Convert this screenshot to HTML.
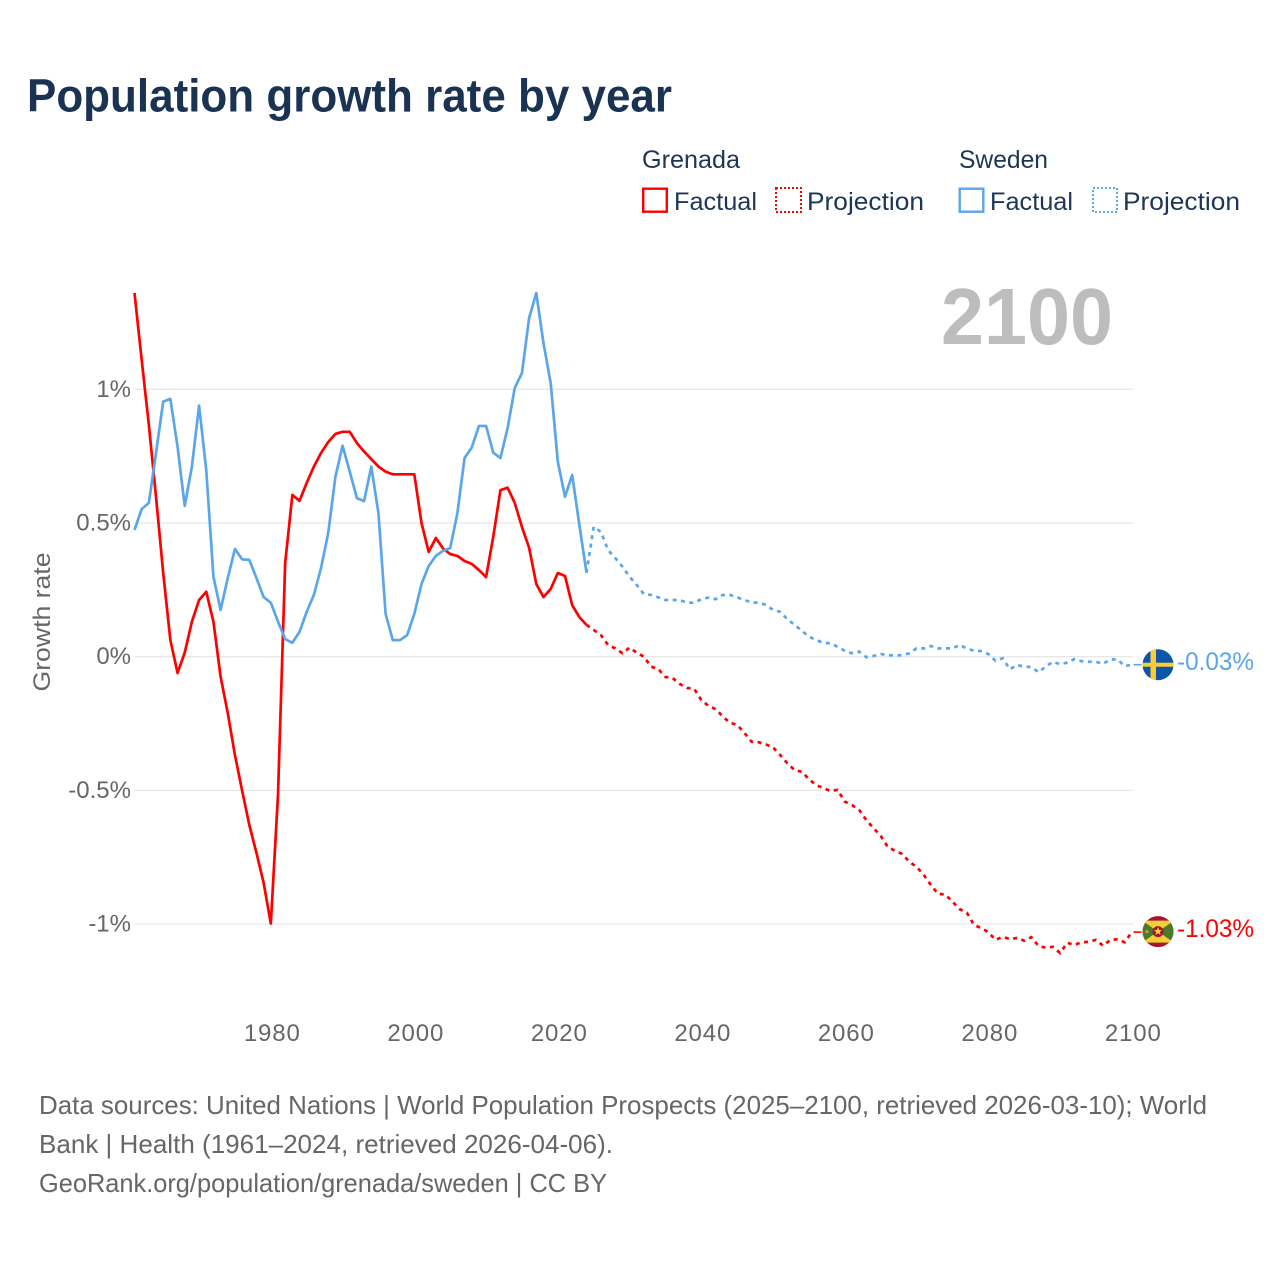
<!DOCTYPE html>
<html lang="en">
<head>
<meta charset="utf-8">
<title>Population growth rate by year</title>
<style>
html,body{margin:0;padding:0;background:#fff;}
svg{display:block;font-family:"Liberation Sans",sans-serif;}
.tick{font-size:24px;fill:#666;}
.legend{font-size:25px;fill:#1d3557;}
.foot{font-size:26px;fill:#666;}
</style>
</head>
<body>
<svg id="chart" width="1280" height="1280" viewBox="0 0 1280 1280" xmlns="http://www.w3.org/2000/svg">
  <text x="27" y="111.5" font-size="46" font-weight="bold" fill="#1a3353" textLength="645" lengthAdjust="spacingAndGlyphs">Population growth rate by year</text>

  <g>
    <text class="legend" x="642" y="168" textLength="98" lengthAdjust="spacingAndGlyphs">Grenada</text>
    <rect x="643.2" y="188.7" width="23.6" height="23" fill="none" stroke="#ff0000" stroke-width="2.4"/>
    <text class="legend" x="674" y="210" textLength="83" lengthAdjust="spacingAndGlyphs">Factual</text>
    <rect x="776" y="188" width="25" height="24" fill="none" stroke="#ff0000" stroke-width="2" stroke-dasharray="2 2" shape-rendering="crispEdges"/>
    <text class="legend" x="807" y="210" textLength="117" lengthAdjust="spacingAndGlyphs">Projection</text>
    <text class="legend" x="959" y="168" textLength="89" lengthAdjust="spacingAndGlyphs">Sweden</text>
    <rect x="959.7" y="188.7" width="23.6" height="23" fill="none" stroke="#5ba6ea" stroke-width="2.4"/>
    <text class="legend" x="990" y="210" textLength="83" lengthAdjust="spacingAndGlyphs">Factual</text>
    <rect x="1093" y="188" width="24" height="24" fill="none" stroke="#5ba6ea" stroke-width="2" stroke-dasharray="2 2" shape-rendering="crispEdges"/>
    <text class="legend" x="1123" y="210" textLength="117" lengthAdjust="spacingAndGlyphs">Projection</text>
  </g>

  <text transform="translate(50,622) rotate(-90)" text-anchor="middle" font-size="24" fill="#666" textLength="139" lengthAdjust="spacingAndGlyphs">Growth rate</text>

  <g id="grid"></g>
  <g id="yticks"></g>
  <g id="xticks"></g>

  <text x="941" y="344" font-size="80" font-weight="bold" fill="#bdbdbd" textLength="172" lengthAdjust="spacingAndGlyphs">2100</text>

  <g id="series"></g>

  <g id="flag-sweden">
    <clipPath id="clip-se"><circle cx="0" cy="0" r="15.5"/></clipPath>
    <g clip-path="url(#clip-se)">
      <rect x="-16" y="-16" width="32" height="32" fill="#0b55ab"/>
      <rect x="-7.5" y="-16" width="5.5" height="32" fill="#fdcc33"/>
      <rect x="-16" y="-2" width="32" height="4" fill="#fdcc33"/>
    </g>
  </g>

  <g id="flag-grenada">
    <clipPath id="clip-gd"><circle cx="0" cy="0" r="15.5"/></clipPath>
    <g clip-path="url(#clip-gd)">
      <rect x="-16" y="-16" width="32" height="32" fill="#a8142c"/>
      <rect x="-16" y="-11" width="32" height="22" fill="#f4cf3a"/>
      <polygon points="-16,-11 0,0 -16,11" fill="#4a7a2c"/>
      <polygon points="16,-11 0,0 16,11" fill="#4a7a2c"/>
      <circle cx="0" cy="0" r="5.5" fill="#a8142c"/>
      <polygon points="0,-4.5 1.2,-1.6 4,-1.5 1.8,0.4 2.6,3.2 0,1.6 -2.6,3.2 -1.8,0.4 -4,-1.5 -1.2,-1.6" fill="#f4cf3a"/>
      <circle cx="-11" cy="0" r="1.6" fill="#d39a3a"/>
    </g>
  </g>

  <text id="label-sweden" font-size="25" fill="#5ba6ea" textLength="77" lengthAdjust="spacingAndGlyphs"></text>
  <text id="label-grenada" font-size="25" fill="#ff0000" textLength="77" lengthAdjust="spacingAndGlyphs"></text>

  <g>
    <text class="foot" x="39" y="1114" textLength="1168" lengthAdjust="spacingAndGlyphs">Data sources: United Nations | World Population Prospects (2025–2100, retrieved 2026-03-10); World</text>
    <text class="foot" x="39" y="1153" textLength="574" lengthAdjust="spacingAndGlyphs">Bank | Health (1961–2024, retrieved 2026-04-06).</text>
    <text class="foot" x="39" y="1192" textLength="568" lengthAdjust="spacingAndGlyphs">GeoRank.org/population/grenada/sweden | CC BY</text>
  </g>
</svg>

<script>
var factualStartYear = 1961;
var projectionStartYear = 2025;
var xTickYears = [1980, 2000, 2020, 2040, 2060, 2080, 2100];
var yTickValues = [1, 0.5, 0, -0.5, -1];
var yTickLabels = ["1%", "0.5%", "0%", "-0.5%", "-1%"];

var grenadaFactual = [
  1.360,1.110,0.867,0.597,0.313,0.062,-0.061,0.015,0.131,0.212,
  0.243,0.131,-0.075,-0.211,-0.368,-0.501,-0.629,-0.734,-0.846,-0.998,
  -0.517,0.350,0.605,0.583,0.650,0.711,0.762,0.803,0.833,0.841,
  0.841,0.799,0.767,0.739,0.711,0.692,0.682,0.682,0.682,0.682,
  0.500,0.392,0.444,0.405,0.384,0.377,0.358,0.347,0.324,0.298,
  0.448,0.623,0.632,0.575,0.485,0.407,0.272,0.223,0.253,0.313,
  0.302,0.193,0.148,0.119
];
var grenadaProjection = [
  0.100,0.081,0.044,0.031,0.013,0.034,0.015,0.000,-0.037,-0.046,
  -0.076,-0.080,-0.102,-0.117,-0.120,-0.162,-0.184,-0.196,-0.224,-0.247,
  -0.255,-0.285,-0.318,-0.320,-0.328,-0.339,-0.368,-0.399,-0.424,-0.430,
  -0.458,-0.480,-0.491,-0.502,-0.498,-0.542,-0.555,-0.573,-0.611,-0.641,
  -0.670,-0.712,-0.726,-0.738,-0.767,-0.786,-0.816,-0.854,-0.887,-0.889,
  -0.916,-0.944,-0.957,-1.003,-1.015,-1.030,-1.059,-1.048,-1.056,-1.052,
  -1.062,-1.049,-1.082,-1.088,-1.085,-1.108,-1.070,-1.078,-1.068,-1.066,
  -1.059,-1.081,-1.059,-1.057,-1.068,-1.030
];
var swedenFactual = [
  0.474,0.552,0.575,0.762,0.954,0.964,0.785,0.564,0.711,0.939,
  0.698,0.299,0.175,0.294,0.403,0.364,0.362,0.294,0.223,0.202,
  0.131,0.066,0.052,0.093,0.168,0.231,0.332,0.463,0.673,0.789,
  0.692,0.593,0.582,0.711,0.537,0.160,0.062,0.062,0.081,0.160,
  0.272,0.339,0.377,0.396,0.406,0.537,0.743,0.782,0.863,0.863,
  0.763,0.743,0.855,1.005,1.061,1.267,1.360,1.173,1.024,0.729,
  0.598,0.680,0.493,0.314
];
var swedenProjection = [
  0.486,0.467,0.399,0.369,0.337,0.299,0.268,0.234,0.231,0.222,
  0.212,0.212,0.212,0.202,0.202,0.215,0.221,0.215,0.231,0.231,
  0.222,0.212,0.203,0.202,0.194,0.175,0.168,0.140,0.119,0.097,
  0.075,0.062,0.052,0.050,0.037,0.022,0.013,0.019,-0.002,0.003,
  0.010,0.006,0.004,0.006,0.013,0.031,0.031,0.040,0.031,0.031,
  0.031,0.044,0.031,0.022,0.021,0.010,-0.015,-0.006,-0.047,-0.031,
  -0.037,-0.039,-0.058,-0.037,-0.019,-0.028,-0.022,-0.009,-0.017,-0.019,
  -0.019,-0.027,-0.010,-0.010,-0.035,-0.030
];

var NS = "http://www.w3.org/2000/svg";
var RED = "#ff0000";
var BLUE = "#5ba6ea";

function xScale(year) { return 134.5 + (year - 1961) * 7.175; }
function yScale(value) { return 656.7 - value * 267.4; }

function pathFrom(startYear, values, prefixYear, prefixValue) {
  var d = "";
  if (prefixYear !== null) {
    d = "M" + xScale(prefixYear).toFixed(2) + " " + yScale(prefixValue).toFixed(2);
  }
  for (var i = 0; i < values.length; i++) {
    d += (d === "" ? "M" : "L") + xScale(startYear + i).toFixed(2) + " " + yScale(values[i]).toFixed(2);
  }
  return d;
}

var gridGroup = document.getElementById("grid");
var yGroup = document.getElementById("yticks");
for (var i = 0; i < yTickValues.length; i++) {
  var gl = document.createElementNS(NS, "line");
  
  
  gl.setAttribute("x1", 134.5);
  gl.setAttribute("x2", 1133);
  gl.setAttribute("y1", yScale(yTickValues[i]));
  gl.setAttribute("y2", yScale(yTickValues[i]));
  gl.setAttribute("stroke", "#e8e8e8");
  gl.setAttribute("stroke-width", "1.3");
  gridGroup.appendChild(gl);

  var yt = document.createElementNS(NS, "text");
  
  
  yt.setAttribute("class", "tick");
  yt.setAttribute("x", 131);
  yt.setAttribute("y", yScale(yTickValues[i]) + 7.5);
  yt.setAttribute("text-anchor", "end");
  yt.textContent = yTickLabels[i];
  yGroup.appendChild(yt);
}

var xGroup = document.getElementById("xticks");
for (var j = 0; j < xTickYears.length; j++) {
  var xt = document.createElementNS(NS, "text");
  
  
  xt.setAttribute("class", "tick");
  xt.setAttribute("x", xScale(xTickYears[j]) + 1.5);
  xt.setAttribute("y", 1041);
  xt.setAttribute("text-anchor", "middle");
  xt.setAttribute("letter-spacing", "0.9");
  xt.textContent = String(xTickYears[j]);
  xGroup.appendChild(xt);
}

var seriesGroup = document.getElementById("series");

var p1 = document.createElementNS(NS, "path");


p1.setAttribute("d", pathFrom(factualStartYear, grenadaFactual, null, 0));
p1.setAttribute("fill", "none");
p1.setAttribute("stroke", RED);
p1.setAttribute("stroke-width", "2.7");
p1.setAttribute("stroke-linejoin", "round");
seriesGroup.appendChild(p1);

var p2 = document.createElementNS(NS, "path");


p2.setAttribute("d", pathFrom(projectionStartYear, grenadaProjection, projectionStartYear - 1, grenadaFactual[grenadaFactual.length - 1]));
p2.setAttribute("fill", "none");
p2.setAttribute("stroke", RED);
p2.setAttribute("stroke-width", "2.7");
p2.setAttribute("stroke-dasharray", "4 4.5");
seriesGroup.appendChild(p2);

var p3 = document.createElementNS(NS, "path");


p3.setAttribute("d", pathFrom(factualStartYear, swedenFactual, null, 0));
p3.setAttribute("fill", "none");
p3.setAttribute("stroke", BLUE);
p3.setAttribute("stroke-width", "2.7");
p3.setAttribute("stroke-linejoin", "round");
seriesGroup.appendChild(p3);

var p4 = document.createElementNS(NS, "path");


p4.setAttribute("d", pathFrom(projectionStartYear, swedenProjection, projectionStartYear - 1, swedenFactual[swedenFactual.length - 1]));
p4.setAttribute("fill", "none");
p4.setAttribute("stroke", BLUE);
p4.setAttribute("stroke-width", "2.7");
p4.setAttribute("stroke-dasharray", "4 4.5");
seriesGroup.appendChild(p4);

var lastGrenada = grenadaProjection[grenadaProjection.length - 1];
var lastSweden = swedenProjection[swedenProjection.length - 1];

var c1 = document.createElementNS(NS, "line");


c1.setAttribute("x1", 1133.5);
c1.setAttribute("x2", 1141.5);
c1.setAttribute("y1", yScale(lastGrenada));
c1.setAttribute("y2", yScale(lastGrenada));
c1.setAttribute("stroke", RED);
c1.setAttribute("stroke-width", "1.6");
seriesGroup.appendChild(c1);

var c2 = document.createElementNS(NS, "line");


c2.setAttribute("x1", 1133.5);
c2.setAttribute("x2", 1141.5);
c2.setAttribute("y1", yScale(lastSweden));
c2.setAttribute("y2", yScale(lastSweden));
c2.setAttribute("stroke", BLUE);
c2.setAttribute("stroke-width", "1.6");
seriesGroup.appendChild(c2);

document.getElementById("flag-grenada").setAttribute("transform", "translate(1158 " + (yScale(lastGrenada) - 0.5) + ")");
document.getElementById("flag-sweden").setAttribute("transform", "translate(1158 " + yScale(lastSweden) + ")");

var lg = document.getElementById("label-grenada");
lg.setAttribute("x", 1177);
lg.setAttribute("y", yScale(lastGrenada) + 5);
lg.textContent = lastGrenada.toFixed(2) + "%";

var ls = document.getElementById("label-sweden");
ls.setAttribute("x", 1177);
ls.setAttribute("y", yScale(lastSweden) + 5.5);
ls.textContent = lastSweden.toFixed(2) + "%";
</script>
</body>
</html>
